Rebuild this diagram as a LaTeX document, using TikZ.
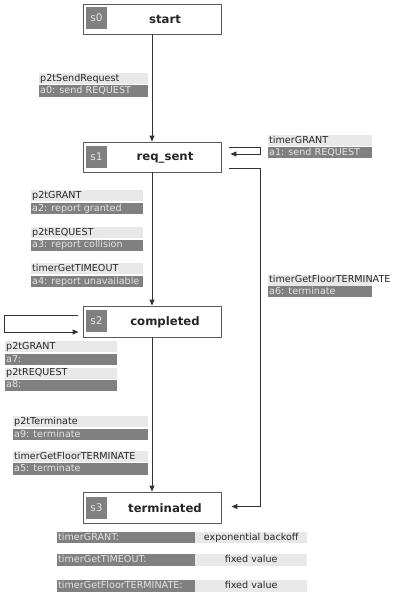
\documentclass[tikz,border=0pt]{standalone}
\usepackage{fontspec}
\setmainfont{DejaVu Sans}
\usetikzlibrary{arrows.meta,calc}
\definecolor{lightbg}{HTML}{E8E8E8}
\definecolor{darkbg}{HTML}{808080}
\definecolor{darktxt}{HTML}{E4E4E4}
\definecolor{boxline}{HTML}{5A5A5A}
\definecolor{connline}{HTML}{333333}
\tikzset{
  statebox/.style={draw=boxline, line width=0.9pt, fill=white, minimum width=138pt, minimum height=30pt, inner sep=0pt},
  idbox/.style={fill=darkbg, text=darktxt, minimum width=21pt, minimum height=22pt, inner sep=0pt, font=\fontsize{10.5}{12}\selectfont},
  title/.style={font=\fontsize{11.7}{13}\bfseries\selectfont, text=black!85, inner sep=0pt},
  lbase/.style={anchor=north west, inner xsep=1pt, inner ysep=0pt, minimum height=11pt, text height=7.6pt, text depth=2.2pt, align=flush left, font=\fontsize{9.6}{11}\selectfont, execute at begin node={\hyphenpenalty=10000\exhyphenpenalty=10000}},
  lt/.style={lbase, fill=lightbg, text=black!85, text width=#1},
  dk/.style={lbase, fill=darkbg, text=darktxt, text width=#1},
  vt/.style={lbase, fill=lightbg, text=black!85, text width=110pt, align=center},
  conn/.style={draw=connline, line width=0.9pt, -{Triangle[length=6pt,width=5pt]}},
}
\begin{document}
\begin{tikzpicture}[x=1pt,y=-1pt]
\useasboundingbox[fill=white] (0,0) rectangle (410,600);
% states
\node[statebox] (s0) at (152,19) {};
\node[idbox] (i0) at (96.5,18) {s0};
\node[title] (t0) at (165,19.5) {start};
\node[statebox] (s1) at (152,157) {};
\node[idbox] (i1) at (96.5,156.5) {s1};
\node[title] (t1) at (165,157.5) {req\_sent};
\node[statebox, minimum height=31pt] (s2) at (152,321.5) {};
\node[idbox] (i2) at (96.5,321) {s2};
\node[title] (t2) at (165,322) {completed};
\node[statebox, minimum height=31pt] (s3) at (152,507.5) {};
\node[idbox] (i3) at (96.5,507.5) {s3};
\node[title] (t3) at (165,508) {terminated};
% connectors
\draw[conn] (s0) -- (s1);
\draw[conn] (s1) -- (s2);
\draw[conn] (s2) -- (s3);
\coordinate (l1a) at ([shift={(8pt,10pt)}]s1.east);
\draw[conn] (l1a) -- ++(31pt,0) -- ++(0,-7pt) -- ([shift={(9pt,3pt)}]s1.east);
\coordinate (l6a) at ([shift={(8pt,-11pt)}]s1.east);
\draw[conn] (l6a) -- ++(31pt,0) |- ([shift={(10pt,1pt)}]s3.east);
\coordinate (l2a) at ([shift={(-5pt,6.5pt)}]s2.west);
\draw[conn] (l2a) -- ++(-73pt,0) -- ++(0,-17pt) -- ([shift={(-4pt,-10.5pt)}]s2.west);
% labels
\node[lt=107pt] (g0) at (39,73) {p2tSendRequest};
\node[dk=107pt, minimum height=12pt] (a0) at (39,85) {a0: send REQUEST};
\node[lt=102pt] (g1) at (268,135) {timerGRANT};
\node[dk=102pt] (a1) at (268,147) {a1: send REQUEST};
\node[lt=110pt] (g2) at (31,190) {p2tGRANT};
\node[dk=110pt] (a2) at (31,203) {a2: report granted};
\node[lt=110pt] (g3) at (31,227) {p2tREQUEST};
\node[dk=110pt] (a3) at (31,239.5) {a3: report collision};
\node[lt=110pt] (g4) at (31,263) {timerGetTIMEOUT};
\node[dk=110pt] (a4) at (31,276) {a4: report unavailable};
\node[lt=102pt] (g6) at (268,274.5) {timerGetFloorTERMINATE};
\node[dk=102pt] (a6) at (268,286) {a6: terminate};
\node[lt=110pt] (g7) at (5,341) {p2tGRANT};
\node[dk=110pt] (a7) at (5,354) {a7:};
\node[lt=110pt] (g8) at (5,367.5) {p2tREQUEST};
\node[dk=110pt] (a8) at (5,379.5) {a8:};
\node[lt=133pt] (g9) at (13,416) {p2tTerminate};
\node[dk=133pt] (a9) at (13,429) {a9: terminate};
\node[lt=133pt] (g5) at (13,451) {timerGetFloorTERMINATE};
\node[dk=133pt, minimum height=12pt] (a5) at (13,463) {a5: terminate};
% timer table
\node[dk=136pt] (k1) at (57,532) {timerGRANT:};
\node[vt] (v1) at (195,532) {exponential backoff};
\node[dk=136pt, minimum height=12pt] (k2) at (57,554) {timerGetTIMEOUT:};
\node[vt, minimum height=12pt] (v2) at (195,554) {fixed value};
\node[dk=136pt, minimum height=12pt] (k3) at (57,580) {timerGetFloorTERMINATE:};
\node[vt, minimum height=12pt] (v3) at (195,580) {fixed value};
\end{tikzpicture}
\end{document}
